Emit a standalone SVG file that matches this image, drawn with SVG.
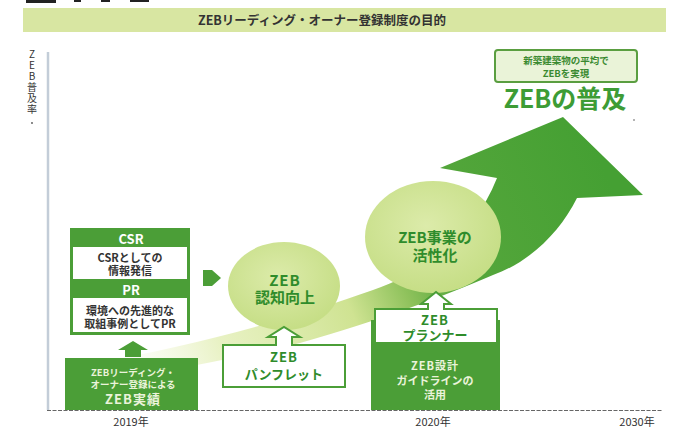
<svg xmlns="http://www.w3.org/2000/svg" width="674" height="428" viewBox="0 0 674 428">
<defs>
<style>
text{font-family:"Noto Sans CJK JP","Noto Sans",sans-serif;font-weight:bold;text-anchor:middle}
.g{fill:#4b9e37}
.wt{fill:#ffffff}
.dk{fill:#333333}
.gt{fill:#2f8c2b}
.lt{fill:#eaf3da}
.wbox{fill:#ffffff;stroke:#4b9e37;stroke-width:2}
.ax{font-size:10px;fill:#333333;font-weight:normal}
</style>
<linearGradient id="band" gradientUnits="userSpaceOnUse" x1="120" y1="372" x2="600" y2="160">
<stop offset="0" stop-color="#eef5d0" stop-opacity="0"/>
<stop offset="0.2" stop-color="#e2eeb4" stop-opacity="0.8"/>
<stop offset="0.45" stop-color="#cfe392"/>
<stop offset="0.56" stop-color="#8fc25c"/>
<stop offset="0.65" stop-color="#56a73c"/>
<stop offset="1" stop-color="#45a033"/>
</linearGradient>
<radialGradient id="circ" cx="0.45" cy="0.4" r="0.6">
<stop offset="0" stop-color="#dcebaa"/>
<stop offset="1" stop-color="#c6de86"/>
</radialGradient>
</defs>
<rect width="674" height="428" fill="#ffffff"/>
<g fill="#222">
<rect x="26" y="0" width="30" height="3"/>
<rect x="74" y="0" width="7" height="2"/>
<rect x="101" y="0" width="9" height="2"/>
<rect x="130" y="0" width="19" height="2"/>
</g>
<g id="title">
<rect x="23" y="8" width="643" height="24" fill="#d8e6a2"/>
<text x="322" y="25" font-size="12.5" class="dk">ZEBリーディング・オーナー登録制度の目的</text>
</g>
<g id="axes">
<line x1="48" y1="52" x2="48" y2="410" stroke="#c3cdd8" stroke-width="2.5"/>
<line x1="47" y1="410.5" x2="663" y2="410.5" stroke="#666" stroke-width="1.2" stroke-dasharray="4 1.5"/>
<text x="32" y="58" class="ax">Z</text>
<text x="32" y="69" class="ax">E</text>
<text x="32" y="80" class="ax">B</text>
<text x="32" y="91" class="ax">普</text>
<text x="32" y="102" class="ax">及</text>
<text x="32" y="113" class="ax">率</text>
<circle cx="32" cy="123" r="0.9" fill="#555"/>
<text x="131" y="426" font-size="11" class="dk" style="font-weight:normal">2019年</text>
<text x="433" y="426" font-size="11" class="dk" style="font-weight:normal">2020年</text>
<text x="637" y="426" font-size="11" class="dk" style="font-weight:normal">2030年</text>
</g>
<g id="connectors">
<path d="M 90 364 C 200 345, 300 316, 373 290 C 425 272, 475 235, 497 178 L 440 168 L 563 117 L 643 195 L 577 198 C 560 232, 530 262, 493 275 C 440 298, 380 320, 300 343 C 220 362, 150 374, 90 384 Z" fill="url(#band)"/>
<polygon points="133,341 148,350 141,350 141,357 125,357 125,350 118,350" class="g"/>
<polygon points="203,270 212,270 221,278 212,286 203,286" class="g"/>
</g>
<g id="goal">
<rect x="495" y="50" width="142" height="32" rx="3" fill="#eaf3d8" stroke="#5a9e40" stroke-width="2"/>
<text x="566" y="64" font-size="9.5" fill="#3a8a30">新築建築物の平均で</text>
<text x="566" y="77" font-size="9.5" fill="#3a8a30">ZEBを実現</text>
<text x="565" y="108" font-size="25" fill="#3d9c35">ZEBの普及</text>
<circle cx="634" cy="120" r="0.8" fill="#555"/>
</g>
<g id="csr-pr">
<rect x="70" y="228" width="120" height="107" class="g"/>
<rect x="73" y="247" width="114" height="32" class="wt"/>
<rect x="73" y="298" width="114" height="34" class="wt"/>
<text x="131" y="244" font-size="13" class="wt">CSR</text>
<text x="130" y="262" font-size="11" class="dk">CSRとしての</text>
<text x="130" y="275" font-size="11" class="dk">情報発信</text>
<text x="131" y="295" font-size="13" class="wt">PR</text>
<text x="130" y="315" font-size="11" class="dk">環境への先進的な</text>
<text x="130" y="328" font-size="11" class="dk">取組事例としてPR</text>
</g>
<g id="zeb-record">
<rect x="65" y="358" width="133" height="52" class="g"/>
<text x="133" y="376" font-size="9.5" class="lt">ZEBリーディング・</text>
<text x="133" y="388" font-size="9.5" class="lt">オーナー登録による</text>
<text x="133" y="404" font-size="13" class="lt" letter-spacing="1">ZEB実績</text>
</g>
<g id="awareness">
<ellipse cx="284" cy="286" rx="56" ry="44" fill="url(#circ)"/>
<text x="285" y="286" font-size="15" class="gt" letter-spacing="1">ZEB</text>
<text x="285" y="303" font-size="15" class="gt">認知向上</text>
</g>
<g id="activation">
<ellipse cx="433" cy="237" rx="68" ry="56" fill="url(#circ)"/>
<text x="435" y="243" font-size="15" class="gt">ZEB事業の</text>
<text x="435" y="261" font-size="15" class="gt">活性化</text>
</g>
<g id="pamphlet">
<path d="M 223 345 L 276 345 L 276 337 L 268 337 L 284 327 L 300 337 L 292 337 L 292 345 L 345 345 L 345 387 L 223 387 Z" class="wbox"/>
<text x="284" y="362" font-size="13" class="gt" letter-spacing="1">ZEB</text>
<text x="284" y="379" font-size="13" class="gt">パンフレット</text>
</g>
<g id="planner">
<rect x="371" y="320" width="129" height="90" class="g"/>
<path d="M 375 309 L 428 309 L 428 304 L 421 304 L 436 292 L 451 304 L 444 304 L 444 309 L 497 309 L 497 343 L 375 343 Z" class="wbox"/>
<text x="435" y="325" font-size="13" class="gt" letter-spacing="1">ZEB</text>
<text x="435" y="340" font-size="13" class="gt">プランナー</text>
<text x="435" y="370" font-size="11" class="lt" letter-spacing="1">ZEB設計</text>
<text x="435" y="385" font-size="11" class="lt">ガイドラインの</text>
<text x="435" y="399" font-size="11" class="lt">活用</text>
</g>
</svg>
